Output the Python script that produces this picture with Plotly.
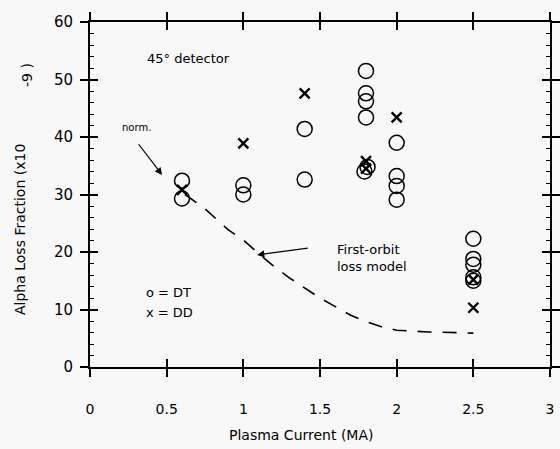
import plotly.graph_objects as go

# DT shots (open circles)
dt_current = [0.6, 0.6, 1.0, 1.0, 1.4, 1.4, 1.8, 1.8, 1.8, 1.8, 1.79, 1.81,
              2.0, 2.0, 2.0, 2.0, 2.5, 2.5, 2.5, 2.5, 2.5]
dt_loss = [32.4, 29.3, 31.6, 30.0, 41.4, 32.6, 51.5, 47.6, 46.2, 43.4, 34.0, 34.8,
           39.0, 33.2, 31.5, 29.1, 22.3, 18.8, 17.8, 15.6, 15.0]

# DD shots (crosses)
dd_current = [0.6, 1.0, 1.4, 1.8, 1.8, 2.0, 2.5, 2.5]
dd_loss = [30.8, 38.9, 47.6, 35.8, 34.5, 43.4, 15.2, 10.3]

# First-orbit loss model (dashed curve)
model_current = [0.62, 0.75, 0.9, 1.0, 1.1, 1.2, 1.3, 1.4, 1.5, 1.6, 1.7, 1.8, 1.9, 2.0, 2.2, 2.5]
model_loss = [30.0, 27.5, 23.9, 22.1, 19.7, 17.5, 15.5, 13.7, 12.0, 10.5, 9.0, 7.9, 7.0, 6.4, 6.1, 5.9]

x_ticks = [0, 0.5, 1, 1.5, 2, 2.5, 3]
x_ticklabels = ["0", "0.5", "1", "1.5", "2", "2.5", "3"]
y_ticks = [0, 10, 20, 30, 40, 50, 60]

FONT = "DejaVu Sans"
BG = "#f8f8f8"

fig = go.Figure()

fig.add_trace(go.Scatter(
    x=model_current, y=model_loss, mode="lines",
    line=dict(color="black", width=1.6, dash="14px,11px"),
    showlegend=False, hoverinfo="skip"))

fig.add_trace(go.Scatter(
    x=dt_current, y=dt_loss, mode="markers",
    marker=dict(symbol="circle-open", size=15, color="black", line=dict(width=1.5)),
    showlegend=False))

fig.add_trace(go.Scatter(
    x=dd_current, y=dd_loss, mode="markers",
    marker=dict(symbol="x-thin-open", size=10, color="black", line=dict(width=2.4, color="black")),
    showlegend=False))

# hidden trace on the overlay axes (gives crossing ticks)
fig.add_trace(go.Scatter(x=dd_current, y=dd_loss, xaxis="x2", yaxis="y2", mode="markers",
                         marker=dict(opacity=0), showlegend=False, hoverinfo="skip"))

ann = []
ann.append(dict(x=0.64, y=53.6, xref="x", yref="y", text="45° detector", showarrow=False,
                font=dict(size=13, family=FONT, color="black")))
ann.append(dict(x=0.30, y=41.6, xref="x", yref="y", text="norm.", showarrow=False,
                font=dict(size=10, family=FONT, color="black")))
ann.append(dict(x=0.47, y=33.4, ax=0.31, ay=39.0, xref="x", yref="y", axref="x", ayref="y",
                text="", showarrow=True, arrowhead=2, arrowsize=1.2, arrowwidth=1.2, arrowcolor="black"))
ann.append(dict(x=1.60, y=19.0, xref="x", yref="y", text="First-orbit<br>loss model",
                showarrow=False, xanchor="left", align="left",
                font=dict(size=13, family=FONT, color="black")))
ann.append(dict(x=1.09, y=19.5, ax=1.43, ay=20.7, xref="x", yref="y", axref="x", ayref="y",
                text="", showarrow=True, arrowhead=2, arrowsize=1.2, arrowwidth=1.2, arrowcolor="black"))
ann.append(dict(x=0.35, y=12.9, xref="x", yref="y", text="o = DT", showarrow=False, xanchor="left",
                font=dict(size=13, family=FONT, color="black")))
ann.append(dict(x=0.35, y=9.4, xref="x", yref="y", text="x = DD", showarrow=False, xanchor="left",
                font=dict(size=13, family=FONT, color="black")))
# axis titles
ann.append(dict(x=(20 - 90) / 460, y=(367 - 230) / 345, xref="paper", yref="paper",
                xanchor="center", yanchor="middle",
                text="Alpha Loss Fraction (x10", textangle=-90, showarrow=False,
                font=dict(size=14, family=FONT, color="black")))
ann.append(dict(x=(27 - 90) / 460, y=(367 - 75) / 345, xref="paper", yref="paper",
                xanchor="center", yanchor="middle",
                text="-9 )", textangle=-90, showarrow=False,
                font=dict(size=14, family=FONT, color="black")))
ann.append(dict(x=(301 - 90) / 460, y=(367 - 435) / 345, xref="paper", yref="paper",
                xanchor="center", yanchor="middle",
                text="Plasma Current (MA)", showarrow=False,
                font=dict(size=14, family=FONT, color="black")))

fig.update_layout(
    width=560, height=449,
    margin=dict(l=90, r=10, t=22, b=82, autoexpand=False),
    paper_bgcolor=BG, plot_bgcolor=BG,
    font=dict(family=FONT, color="black"),
    annotations=ann,
    xaxis=dict(range=[0, 3], tickvals=x_ticks, ticktext=x_ticklabels, automargin=False,
               ticks="outside", ticklen=8, tickwidth=1.8, tickcolor="black",
               showline=True, linewidth=2, linecolor="black", mirror="allticks",
               showgrid=False, zeroline=False, ticklabelstandoff=20,
               tickfont=dict(size=14, family=FONT, color="black")),
    yaxis=dict(range=[0, 60], tickvals=y_ticks, automargin=False,
               ticks="outside", ticklen=8, tickwidth=1.8, tickcolor="black",
               showline=True, linewidth=2, linecolor="black", mirror="allticks",
               showgrid=False, zeroline=False, ticklabelstandoff=4,
               tickfont=dict(size=15, family=FONT, color="black")),
    xaxis2=dict(range=[0, 3], overlaying="x", anchor="y2", side="bottom", automargin=False,
                tickvals=x_ticks, ticks="inside", ticklen=8, tickwidth=1.8, tickcolor="black",
                mirror="allticks", showline=True, linewidth=2, linecolor="black",
                showgrid=False, zeroline=False, showticklabels=False),
    yaxis2=dict(range=[0, 60], overlaying="y", anchor="x2", side="left", automargin=False,
                tickvals=y_ticks, ticks="inside", ticklen=8, tickwidth=1.8, tickcolor="black",
                minor=dict(ticks="inside", dtick=2, ticklen=4, tickwidth=1.4, tickcolor="black"),
                mirror="allticks", showline=True, linewidth=2, linecolor="black",
                showgrid=False, zeroline=False, showticklabels=False),
)

fig.write_html("out.html", config={"displayModeBar": False},
               post_script="document.body.style.margin='0';")
